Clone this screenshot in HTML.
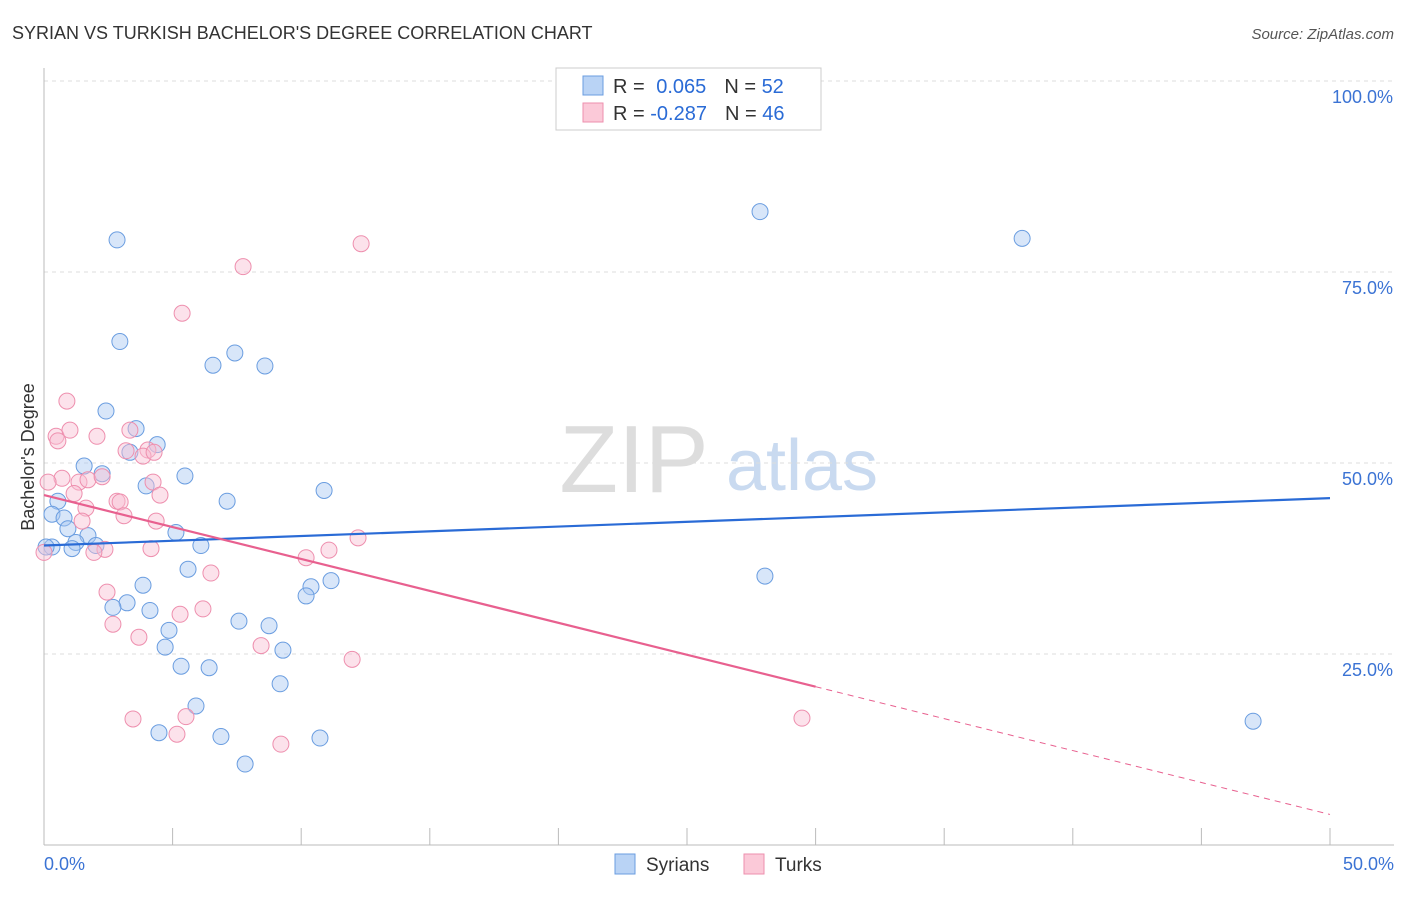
<!DOCTYPE html>
<html><head><meta charset="utf-8"><style>
body{margin:0;background:#fff;font-family:"Liberation Sans",sans-serif}
svg text{font-family:"Liberation Sans",sans-serif}
</style></head><body>
<svg id="c" width="1406" height="892">
<text x="12" y="39" font-size="18" fill="#333">SYRIAN VS TURKISH BACHELOR'S DEGREE CORRELATION CHART</text>
<text x="1394" y="39" font-size="15" fill="#555" font-style="italic" text-anchor="end">Source: ZipAtlas.com</text>
<text x="34" y="457" font-size="18" fill="#333" transform="rotate(-90 34 457)" text-anchor="middle">Bachelor's Degree</text>
<g><text x="634" y="492" font-size="96" fill="#ddd" font-family="Liberation Serif" text-anchor="middle">ZIP</text><text x="802" y="490" font-size="72" fill="#c9daf0" text-anchor="middle">atlas</text></g>
<g id="grid"></g><g id="marks"></g>
<g>
<rect x="556" y="68" width="265" height="62" fill="#fff" stroke="#ccc"/>
<rect x="583" y="76" width="20" height="19" fill="#b9d3f5" stroke="#6a9de0"/>
<rect x="583" y="103" width="20" height="19" fill="#fbc9d8" stroke="#ee8fae"/>
<text x="613" y="93" font-size="20" fill="#333">R = <tspan fill="#2a6bd6" dx="6">0.065</tspan><tspan dx="18" fill="#333">N = </tspan><tspan fill="#2a6bd6">52</tspan></text>
<text x="613" y="120" font-size="20" fill="#333">R = <tspan fill="#2a6bd6" dx="0">-0.287</tspan><tspan dx="18" fill="#333">N = </tspan><tspan fill="#2a6bd6">46</tspan></text>
</g>
<g>
<rect x="615" y="854" width="20" height="20" fill="#b9d3f5" stroke="#6a9de0"/>
<text x="646" y="871" font-size="19" fill="#333">Syrians</text>
<rect x="744" y="854" width="20" height="20" fill="#fbc9d8" stroke="#ee8fae"/>
<text x="775" y="871" font-size="19" fill="#333">Turks</text>
</g>
</svg>
<script>
const yTicks=[25,50,75,100];
const xTickLabels=["0.0%","50.0%"];
const syrX=[2.84,27.84,38.03,2.95,7.42,6.57,8.59,2.41,3.58,4.4,3.34,1.56,2.26,5.48,3.97,10.89,0.54,7.12,0.31,0.78,0.93,5.13,1.71,1.24,2.02,1.09,6.1,0.31,5.6,28.03,11.16,3.85,10.38,10.19,3.23,2.68,4.12,7.58,8.75,4.86,4.71,9.29,5.33,6.42,9.18,5.91,47.01,4.47,6.88,10.73,7.82,0.08];
const syrY=[79.2,82.9,79.4,65.9,64.4,62.8,62.7,56.8,54.5,52.4,51.4,49.6,48.6,48.3,47,46.4,45,45,43.3,42.8,41.4,40.9,40.5,39.6,39.2,38.8,39.2,39,36.1,35.2,34.6,34,33.8,32.6,31.7,31.1,30.7,29.3,28.7,28.1,25.9,25.5,23.4,23.2,21.1,18.2,16.2,14.7,14.2,14,10.6,39];
const turX=[0.89,7.74,12.33,5.37,0.47,1.01,2.06,3.34,0.54,4.04,3.19,3.85,4.28,0.7,1.36,1.71,2.26,0.16,4.24,4.51,1.17,2.84,2.96,1.63,3.11,1.48,4.36,4.16,2.37,1.94,0,11.08,10.19,12.21,6.49,2.45,6.18,5.29,2.68,3.69,8.44,11.98,29.47,3.46,5.52,5.17,9.21];
const turY=[58.1,75.7,78.7,69.6,53.5,54.3,53.5,54.3,52.9,51.7,51.6,50.9,51.4,48,47.5,47.8,48.2,47.5,47.5,45.8,46,45,44.9,44.1,43.1,42.4,42.4,38.8,38.7,38.3,38.3,38.6,37.6,40.2,35.6,33.1,30.9,30.2,28.9,27.2,26.1,24.3,16.6,16.5,16.8,14.5,13.2];
const trendX=[0,50];
const syrTrend=[39.2,45.4];
const turTrend=[45.8,4.0];
const solidEnd=30;
const X=v=>44+v*25.72, Y=v=>845-v*7.64;
const NS="http://www.w3.org/2000/svg";
function mk(t,a,p){const e=document.createElementNS(NS,t);for(const k in a)e.setAttribute(k,a[k]);p.appendChild(e);return e;}
const g=document.getElementById('grid'),m=document.getElementById('marks');
yTicks.forEach(t=>{
 const l=mk('line',{x1:44,x2:1394,y1:Y(t),y2:Y(t),stroke:'#ddd','stroke-dasharray':'4 4'},g);
 
 
 const tx=mk('text',{x:1393,y:Y(t)+22,'font-size':18,fill:'#3b73d4','text-anchor':'end'},g);
 tx.textContent=t.toFixed(1)+'%';
 
 
});
mk('line',{x1:44,x2:44,y1:68,y2:845,stroke:'#bbb'},g);
mk('line',{x1:44,x2:1394,y1:845,y2:845,stroke:'#bbb'},g);
for(let i=0;i<=10;i++){mk('line',{x1:X(i*5),x2:X(i*5),y1:828,y2:845,stroke:'#bbb'},g);}
xTickLabels.forEach((s,i)=>{
 const tx=mk('text',{x:i?1394:44,y:870,'font-size':18,fill:'#3b73d4','text-anchor':i?'end':'start'},g);
 tx.textContent=s;
 
 
});
function pts(xs,ys,fill,stroke,name){xs.forEach((x,i)=>{
 const c=mk('circle',{cx:X(x),cy:Y(ys[i]),r:8,fill:fill,'fill-opacity':0.45,stroke:stroke,'stroke-width':1},m);
 
 
});}
pts(syrX,syrY,'#a9c8f2','#6a9de0','syrian');
pts(turX,turY,'#f8bfd2','#ee8fae','turk');
const a=mk('line',{x1:X(trendX[0]),y1:Y(syrTrend[0]),x2:X(trendX[1]),y2:Y(syrTrend[1]),stroke:'#2a6bd6','stroke-width':2.2},m);


const ty=v=>turTrend[0]+(turTrend[1]-turTrend[0])*(v-trendX[0])/(trendX[1]-trendX[0]);
const b=mk('line',{x1:X(trendX[0]),y1:Y(turTrend[0]),x2:X(solidEnd),y2:Y(ty(solidEnd)),stroke:'#e8608f','stroke-width':2.2},m);


const d=mk('line',{x1:X(solidEnd),y1:Y(ty(solidEnd)),x2:X(trendX[1]),y2:Y(turTrend[1]),stroke:'#e8608f','stroke-width':1,'stroke-dasharray':'6 5'},m);


</script>
</body></html>
